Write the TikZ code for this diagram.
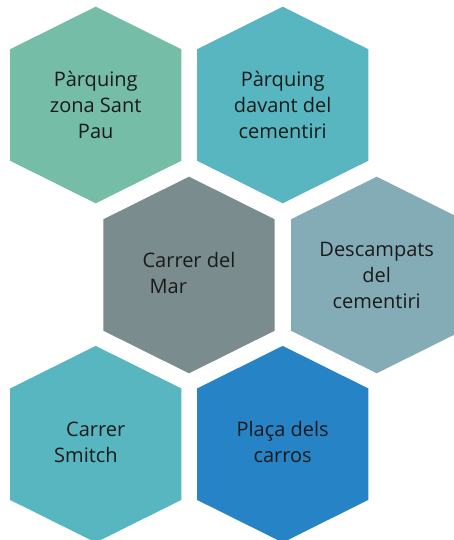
\documentclass[tikz,border=0pt]{standalone}
\usepackage{fontspec}
\setmainfont{Open Sans}
\usepackage{tikz}
\usetikzlibrary{positioning}
\definecolor{hexgreen}{RGB}{117, 189, 167}
\definecolor{hexteal}{RGB}{88, 182, 192}
\definecolor{hexgray}{RGB}{122, 140, 142}
\definecolor{hexslate}{RGB}{132, 172, 182}
\definecolor{hexblue}{RGB}{38, 131, 198}
\definecolor{labelgray}{RGB}{26, 26, 26}

\begin{document}
\begin{tikzpicture}[x=1pt, y=-1pt,
  hexlabel/.style={font=\fontsize{20}{26}\selectfont, text=labelgray, align=center, inner sep=0pt},
  hexcell/.pic={\fill[pic actions] (0,-98.3) -- (85.7,-55.7) -- (85.7,55.7) -- (0,98.3) -- (-85.7,55.7) -- (-85.7,-55.7) -- cycle;}]
  \useasboundingbox (0,0) rectangle (453,540);

  \pic[fill=hexgreen] at (95.7,105) {hexcell};
  \node[hexlabel] (santpau) at (95.7,105) {Pàrquing\\zona Sant\\Pau};
  \pic[fill=hexteal] at (282.7,105) {hexcell};
  \node[hexlabel] (davant) at (282.7,105) {Pàrquing\\davant del\\cementiri};

  \pic[fill=hexgray] at (189,275) {hexcell};
  \node[hexlabel, align=left, yshift=2pt] (mar) at (189,275) {Carrer del\\\hspace*{7pt}Mar};
  \pic[fill=hexslate] at (376.7,275) {hexcell};
  \node[hexlabel] (descampats) at (376.7,275) {Descampats\\del\\cementiri};

  \pic[fill=hexteal] at (95.7,444.2) {hexcell};
  \node[hexlabel, align=left, xshift=-6pt, yshift=2pt] (smitch) at (95.7,444.2) {\hspace*{12pt}Carrer\\Smitch};
  \pic[fill=hexblue] at (282.7,444.2) {hexcell};
  \node[hexlabel, yshift=2pt] (carros) at (282.7,444.2) {Plaça dels\\carros};
\end{tikzpicture}
\end{document}
